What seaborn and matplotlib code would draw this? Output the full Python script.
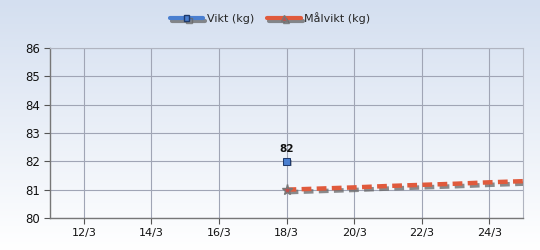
import numpy as np
import pandas as pd
import matplotlib
matplotlib.use("Agg")
import matplotlib.pyplot as plt
import matplotlib.patheffects as pe
from matplotlib.lines import Line2D
import seaborn as sns

# Data
vikt_dates = ["2024-03-18"]
vikt_values = [82]
mal_dates = ["2024-03-18", "2024-03-19", "2024-03-20", "2024-03-21", "2024-03-22",
             "2024-03-23", "2024-03-24", "2024-03-25"]
mal_values = [81.0, 81.04, 81.08, 81.13, 81.17, 81.21, 81.26, 81.3]
tick_dates = ["2024-03-12", "2024-03-14", "2024-03-16", "2024-03-18",
              "2024-03-20", "2024-03-22", "2024-03-24"]
tick_labels = ["12/3", "14/3", "16/3", "18/3", "20/3", "22/3", "24/3"]
y_ticks = [80, 81, 82, 83, 84, 85, 86]

sns.set_style("white")
plt.rcParams['font.family'] = ['DejaVu Sans']

df_v = pd.DataFrame({"date": pd.to_datetime(vikt_dates), "val": vikt_values})
df_m = pd.DataFrame({"date": pd.to_datetime(mal_dates), "val": mal_values})

fig = plt.figure(figsize=(5.4, 2.5), dpi=100)

# background gradient
bg = fig.add_axes([0, 0, 1, 1], zorder=-10)
grad = np.linspace(0, 1, 256).reshape(-1, 1)
top = np.array([212, 223, 240]) / 255
bot = np.array([255, 255, 255]) / 255
img = top[None, None, :] * (1 - grad[:, :, None]) + bot[None, None, :] * grad[:, :, None]
bg.imshow(img, aspect="auto", extent=[0, 1, 0, 1])
bg.axis("off")

ax = fig.add_axes([50/540, 1 - 218/250, 473/540, 170/250])
ax.set_facecolor("none")

blue = "#4a7fd0"
red = "#e05a3c"
shadow = [pe.SimpleLineShadow(offset=(1.5, -1.8), shadow_color="#666666", alpha=0.75), pe.Normal()]

sns.lineplot(data=df_m, x="date", y="val", ax=ax, color=red, linewidth=3.2,
             linestyle=(0, (2.2, 1.2)), path_effects=shadow, legend=False, zorder=3)
ax.plot(df_m["date"].iloc[:1], df_m["val"].iloc[:1], marker="*", markersize=8,
        color="#c0504d", markeredgecolor="#777777", linestyle="none", zorder=4)
sns.lineplot(data=df_v, x="date", y="val", ax=ax, color=blue, marker="s",
             markersize=5, markeredgecolor="#1f3a6b", legend=False, zorder=4,
             path_effects=[pe.SimplePatchShadow(offset=(1.2, -1.2)), pe.Normal()])
for d, v in zip(df_v["date"], df_v["val"]):
    ax.annotate(f"{v:g}", (d, v), xytext=(0, 5), textcoords="offset points",
                ha="center", va="bottom", fontsize=7.5, fontweight="bold", color="#111111")

ax.set_xlim(pd.Timestamp("2024-03-11"), pd.Timestamp("2024-03-25"))
ax.set_ylim(80, 86)
ax.set_yticks(y_ticks)
ax.set_yticklabels([str(t) for t in y_ticks], fontsize=8.5)
ax.set_xticks(pd.to_datetime(tick_dates))
ax.set_xticklabels(tick_labels, fontsize=8)
ax.set_xlabel("")
ax.set_ylabel("")
ax.grid(True, color="#a0a5b5", linewidth=0.8)
ax.tick_params(axis="both", length=4, width=0.8, color="#555555", pad=3, labelcolor="#111111")
ax.tick_params(axis="x", direction="out", bottom=True)
ax.tick_params(axis="y", direction="out", left=True)
for s in ["left", "bottom"]:
    ax.spines[s].set_color("#777777")
    ax.spines[s].set_linewidth(1)
for s in ["top", "right"]:
    ax.spines[s].set_color("#b0b4c0")
    ax.spines[s].set_linewidth(0.8)

handles = [
    Line2D([0], [0], color=blue, linewidth=3, marker="s", markersize=4,
           markeredgecolor="#1f3a6b", path_effects=shadow),
    Line2D([0], [0], color=red, linewidth=3, marker="^", markersize=4,
           markerfacecolor="#c0504d", markeredgecolor="#777777", path_effects=shadow),
]
fig.legend(handles, ["Vikt (kg)", "Målvikt (kg)"], loc="center", bbox_to_anchor=(0.5, 1 - 18/250),
           ncol=2, frameon=False, fontsize=8, handlelength=3.0, columnspacing=1.2,
           handletextpad=0.3)

fig.savefig("out.png", dpi=100)
